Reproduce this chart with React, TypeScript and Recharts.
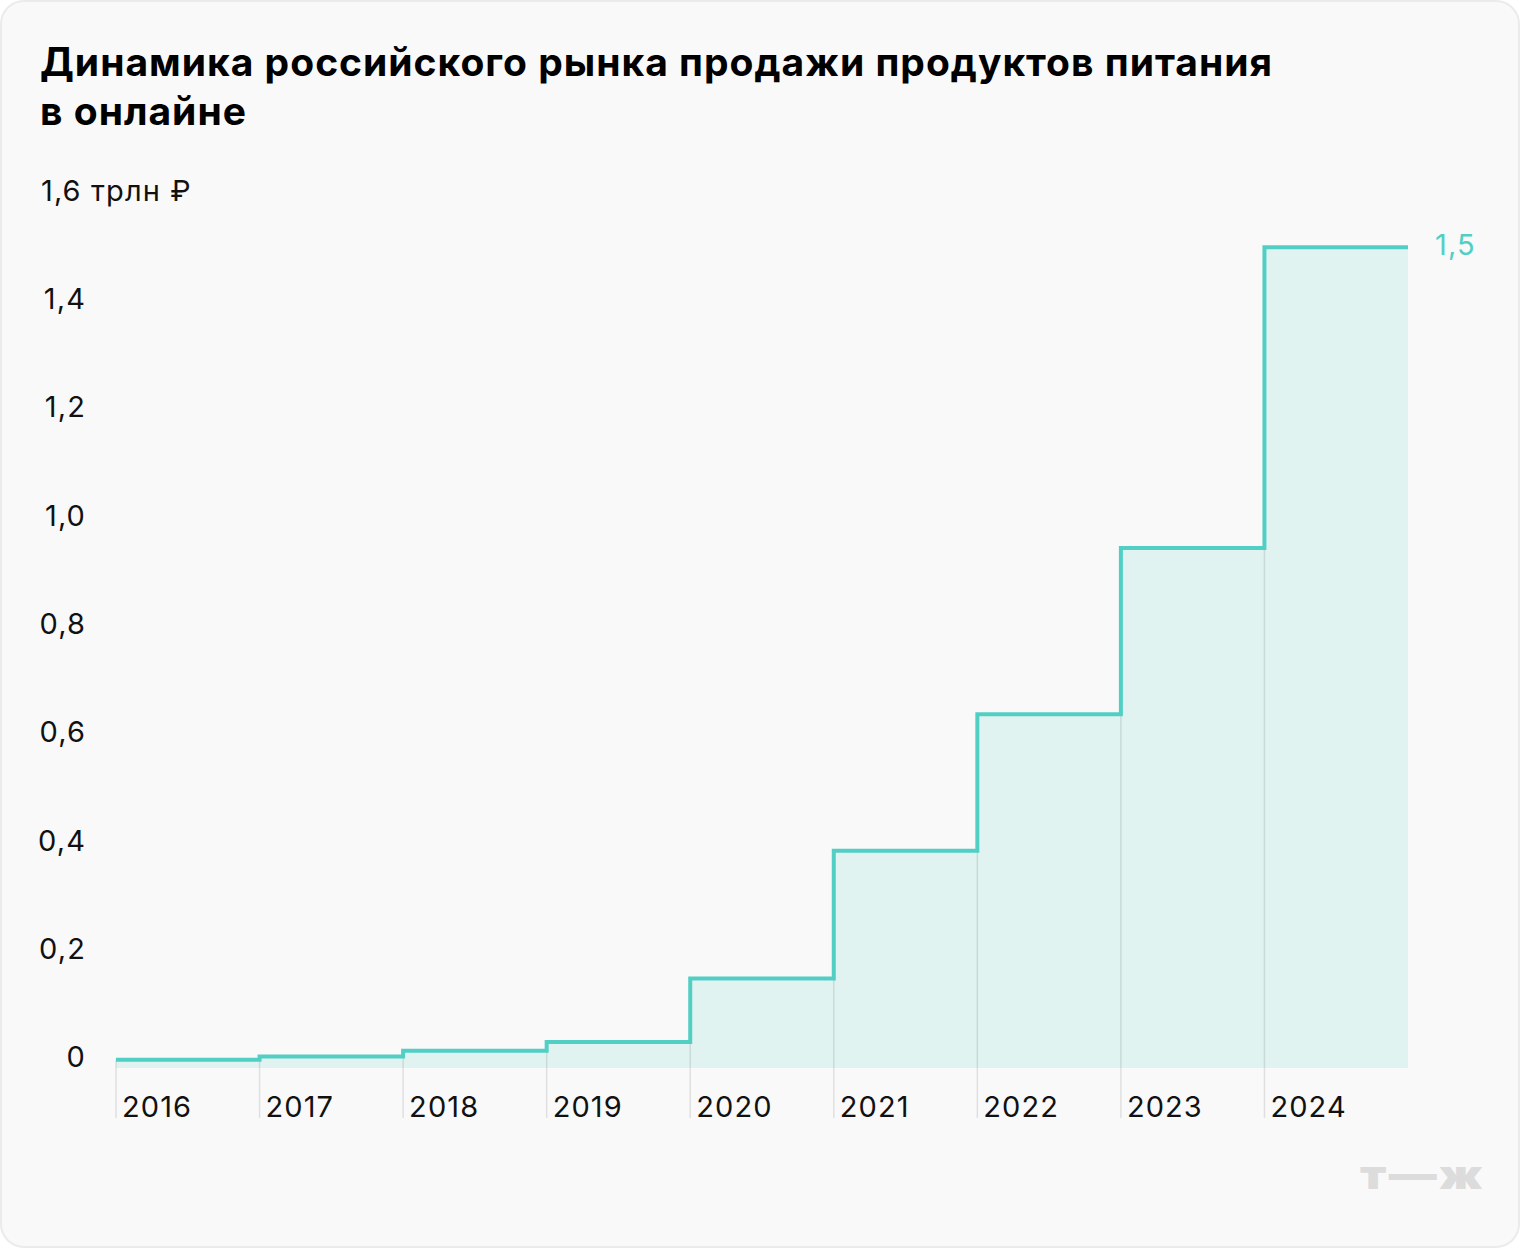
import { ComposedChart, Area, Line, XAxis, YAxis, ReferenceLine, LabelList } from "recharts";

const years = [2016, 2017, 2018, 2019, 2020, 2021, 2022, 2023, 2024];
const values = [0, 0.006, 0.017, 0.033, 0.15, 0.386, 0.638, 0.945, 1.5];
const yTicks = [0, 0.2, 0.4, 0.6, 0.8, 1.0, 1.2, 1.4, 1.6];
const endYear = 2025;

const TEAL = "#52cfc4";
const FILL = "#e0f3f1";
const FONT = "Inter, 'Noto Sans', sans-serif";

// stepAfter needs a closing point so the last year gets its own step
const data = [
  ...years.map((year, i) => ({ year, value: values[i] })),
  { year: endYear, value: values[values.length - 1] },
];

const fmt = (v: number) => (v === 0 ? "0" : v.toFixed(1).replace(".", ","));

const textStyle = { fontSize: 29, fontFamily: FONT, letterSpacing: 1.1 };

function YTick({ y, payload }: any) {
  const v = payload.value as number;
  if (v === 1.6) {
    return (
      <text x={41} y={y - 3} dominantBaseline="central" fill="#111" style={textStyle}>
        {fmt(v)} трлн ₽
      </text>
    );
  }
  return (
    <text x={86} y={y - 3} textAnchor="end" dominantBaseline="central" fill="#111" style={textStyle}>
      {fmt(v)}
    </text>
  );
}

function XTick({ x, y, payload }: any) {
  return (
    <g>
      <line x1={x} x2={x} y1={y} y2={y + 50} stroke="#000" strokeOpacity={0.1} strokeWidth={1.5} />
      <text x={x + 6} y={y + 49} fill="#111" style={textStyle}>
        {payload.value}
      </text>
    </g>
  );
}

function EndLabel({ x, y, index }: any) {
  if (index !== data.length - 1) return null;
  return (
    <text x={x + 27} y={y - 3} dominantBaseline="central" fill={TEAL} style={textStyle}>
      {fmt(values[values.length - 1])}
    </text>
  );
}

export default function App() {
  return (
    <div style={{ position: "fixed", left: 0, top: 0, width: 1520, height: 1248, background: "#fff" }}>
      <div
        style={{
          position: "absolute",
          inset: 0,
          background: "#f9f9f9",
          border: "2px solid #ebebeb",
          borderRadius: 24,
          boxSizing: "border-box",
        }}
      />
      <div
        style={{
          position: "absolute",
          left: 40,
          top: 37,
          fontFamily: FONT,
          fontWeight: 700,
          fontSize: 39,
          lineHeight: "49px",
          color: "#000",
          letterSpacing: 1,
        }}
      >
        Динамика российского рынка продажи продуктов питания
        <br />в онлайне
      </div>
      <div style={{ position: "absolute", left: 0, top: 0 }}>
        <ComposedChart
          width={1520}
          height={1248}
          data={data}
          margin={{ top: 193, right: 112, left: 0, bottom: 120 }}
        >
          <XAxis
            dataKey="year"
            type="number"
            domain={[2016, endYear]}
            ticks={years}
            axisLine={false}
            tickLine={false}
            tickSize={0}
            tickMargin={0}
            height={60}
            tick={<XTick />}
          />
          <YAxis
            type="number"
            domain={[-0.015, 1.6]}
            ticks={yTicks}
            axisLine={false}
            tickLine={false}
            width={116}
            tick={<YTick />}
          />
          <Area
            dataKey="value"
            type="stepAfter"
            baseValue="dataMin"
            fill={FILL}
            fillOpacity={1}
            stroke="none"
            isAnimationActive={false}
          />
          {years.map((year, i) => (
            <ReferenceLine
              key={year}
              segment={[
                { x: year, y: values[i] },
                { x: year, y: -0.015 },
              ]}
              stroke="#000"
              strokeOpacity={0.1}
              strokeWidth={1.5}
            />
          ))}
          <Line
            dataKey="value"
            type="stepAfter"
            stroke={TEAL}
            strokeWidth={4}
            dot={false}
            isAnimationActive={false}
          >
            <LabelList dataKey="value" content={<EndLabel />} />
          </Line>
        </ComposedChart>
      </div>
      <div
        style={{
          position: "absolute",
          left: 1360,
          top: 1150,
          fontFamily: FONT,
          fontWeight: 900,
          fontSize: 40,
          color: "#dcdcdc",
          letterSpacing: 2,
          transform: "scaleX(1.2)",
          transformOrigin: "left center",
        }}
      >
        т—ж
      </div>
    </div>
  );
}
